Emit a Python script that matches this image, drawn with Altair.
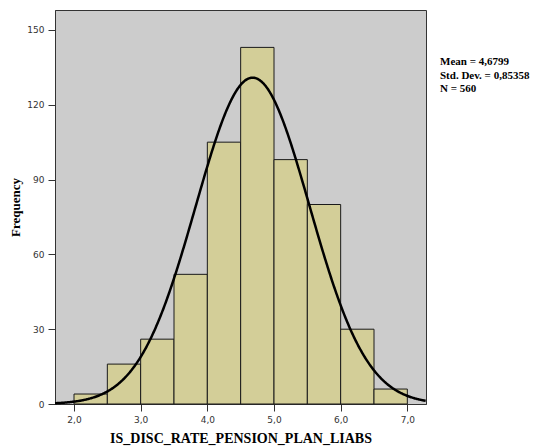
import altair as alt
import pandas as pd

bin_start = [2.0, 2.5, 3.0, 3.5, 4.0, 4.5, 5.0, 5.5, 6.0, 6.5]
bin_end = [2.5, 3.0, 3.5, 4.0, 4.5, 5.0, 5.5, 6.0, 6.5, 7.0]
counts = [4, 16, 26, 52, 105, 143, 98, 80, 30, 6]
stats_lines = ["Mean = 4,6799", "Std. Dev. = 0,85358", "N = 560"]
MEAN = 4.6799
SD = 0.85358
N = 560
BIN_W = 0.5

x_ticks = [2.0, 3.0, 4.0, 5.0, 6.0, 7.0]
y_ticks = [0, 30, 60, 90, 120, 150]

W, H = 371, 394
xdom = [1.715, 7.28]
ydom = [0, 158]

df = pd.DataFrame({"start": bin_start, "end": bin_end, "count": counts})

xscale = alt.Scale(domain=xdom, nice=False, zero=False)
yscale = alt.Scale(domain=ydom, nice=False)

xaxis = alt.Axis(values=x_ticks, labelExpr="replace(format(datum.value, '.1f'), '.', ',')",
                 title="IS_DISC_RATE_PENSION_PLAN_LIABS", grid=False)
yaxis = alt.Axis(values=y_ticks, title="Frequency", grid=False)

bars = alt.Chart(df).mark_rect(fill="#D3CE98", stroke="#1a1a1a", strokeWidth=1).encode(
    x=alt.X("start:Q", scale=xscale, axis=xaxis),
    x2="end:Q",
    y=alt.Y("count:Q", scale=yscale, axis=yaxis),
    y2=alt.datum(0),
)

curve = alt.Chart(alt.sequence(1.715, 7.281, 0.01, as_="x")).transform_calculate(
    y=f"{N}*{BIN_W}/({SD}*sqrt(2*PI))*exp(-0.5*pow((datum.x-{MEAN})/{SD},2))"
).mark_line(color="black", strokeWidth=2.5).encode(
    x=alt.X("x:Q", scale=xscale),
    y=alt.Y("y:Q", scale=yscale),
)

stat_layers = []
for i, line in enumerate(stats_lines):
    stat_layers.append(
        alt.Chart(pd.DataFrame({"t": [line]})).mark_text(
            align="left", baseline="middle", font="Liberation Serif", fontWeight="bold",
            fontSize=11, color="black"
        ).encode(
            x=alt.value(385),
            y=alt.value(52 + 13.5 * i),
            text="t:N",
        )
    )

chart = alt.layer(bars, curve, *stat_layers).properties(
    width=W, height=H,
    autosize=alt.AutoSizeParams(type="none"),
    padding={"left": 47, "top": 2, "right": 106, "bottom": 44},
).configure_view(
    fill="#CCCCCC", stroke="#333333", strokeWidth=1
).configure_axis(
    labelFont="DejaVu Sans", labelFontSize=9, labelColor="#333333",
    titleFont="Liberation Serif", titleFontWeight="bold", titleFontSize=14, titleColor="black",
    domainColor="#333333", tickColor="#333333", tickSize=7, labelPadding=4,
).configure_axisX(titlePadding=7).configure_axisY(titlePadding=4, titleFontSize=13)

chart.save("out.html", embed_options={"renderer": "svg", "actions": False})
